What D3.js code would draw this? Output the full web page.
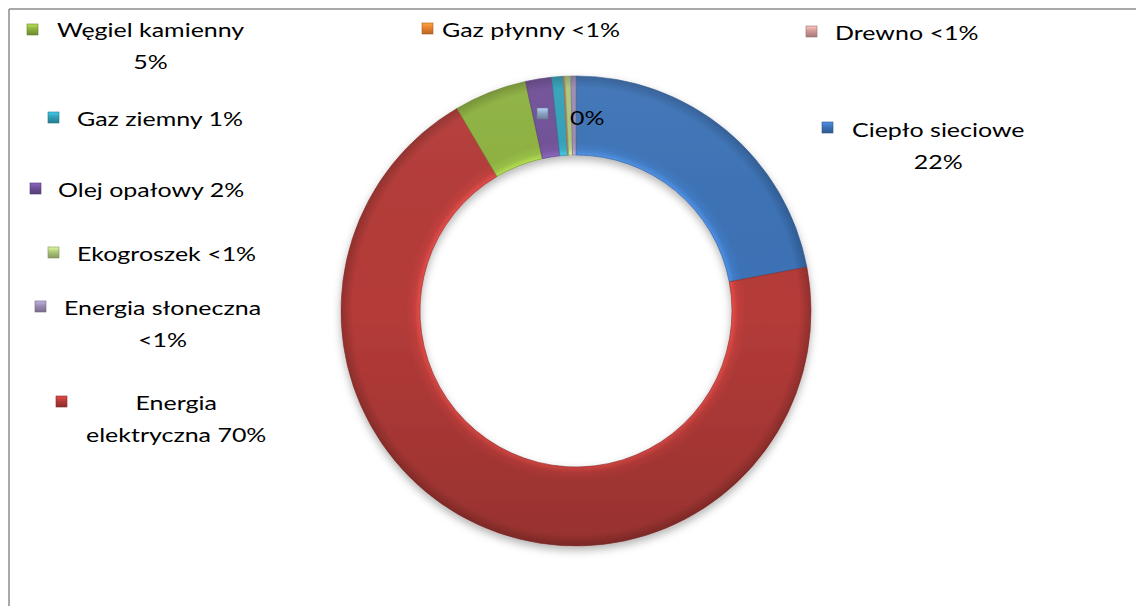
<!DOCTYPE html>
<html>
<head>
<meta charset="utf-8">
<script src="https://cdn.jsdelivr.net/npm/d3@7"></script>
<style>
  body { margin: 0; background: #fff; }
  svg { display: block; font-family: Lato, "Open Sans", sans-serif; }
</style>
</head>
<body>
<svg width="1136" height="607"></svg>
<script>
// slices in drawing order (clockwise from 12 o'clock)
const categories = ["Ciepło sieciowe", "Energia elektryczna", "Węgiel kamienny", "Olej opałowy",
  "Gaz ziemny", "Gaz płynny", "", "Drewno", "Ekogroszek", "Energia słoneczna"];
const shares = [22, 69.5, 5, 1.8, 0.8, 0.05, 0, 0.05, 0.4, 0.35];
const labelLines = [
  ["Ciepło sieciowe", "22%"],
  ["Energia", "elektryczna 70%"],
  ["Węgiel kamienny", "5%"],
  ["Olej opałowy 2%"],
  ["Gaz ziemny 1%"],
  ["Gaz płynny <1%"],
  ["0%"],
  ["Drewno <1%"],
  ["Ekogroszek <1%"],
  ["Energia słoneczna", "<1%"]
];
const colors = ["#3c72b6", "#b43b38", "#8db13f", "#6f4f97", "#31a0b9",
  "#e9822e", "#8fa6c6", "#d19a98", "#adc67a", "#9a8bb3"];

// label placement: text left, first baseline, marker left, marker top
const labelPos = [
  [852, 137, 822, 122],
  [86, 410, 56, 396],
  [57, 37, 27, 24],
  [58, 197, 30, 183],
  [77, 126, 48, 112],
  [442, 37, 422, 23],
  [570, 125, 537, 108],
  [835, 40, 806, 26],
  [77, 261, 48, 247],
  [64, 315, 35, 301]
];

const svg = d3.select("svg");
const cx = 576, cy = 311, rOuter = 235, rInner = 156;
const lineH = 32, stretch = 1.28;

// frame (only top and left edges are visible)
svg.append("line").attr("x1", 9).attr("y1", 9).attr("x2", 1136).attr("y2", 9)
  .attr("stroke", "#8c8c8c").attr("stroke-width", 1.5);
svg.append("line").attr("x1", 9).attr("y1", 9).attr("x2", 9).attr("y2", 606)
  .attr("stroke", "#8c8c8c").attr("stroke-width", 1.5);

const defs = svg.append("defs");

const shadow = defs.append("filter").attr("id", "shadow")
  .attr("x", "-10%").attr("y", "-10%").attr("width", "120%").attr("height", "125%");
shadow.append("feDropShadow").attr("dx", 0).attr("dy", 4).attr("stdDeviation", 4)
  .attr("flood-color", "#000").attr("flood-opacity", 0.3);

const shade = defs.append("linearGradient").attr("id", "shade")
  .attr("gradientUnits", "userSpaceOnUse")
  .attr("x1", 0).attr("y1", -rOuter).attr("x2", 0).attr("y2", rOuter);
shade.append("stop").attr("offset", 0).attr("stop-color", "#fff").attr("stop-opacity", 0.05);
shade.append("stop").attr("offset", 0.5).attr("stop-color", "#000").attr("stop-opacity", 0);
shade.append("stop").attr("offset", 1).attr("stop-color", "#000").attr("stop-opacity", 0.16);

const data = categories.map((c, i) => ({ name: c, value: shares[i], color: colors[i], i }));

// bevel-like radial shading per slice (ring is drawn around 0,0)
data.forEach(d => {
  const base = d3.color(d.color);
  const g = defs.append("radialGradient").attr("id", "grad" + d.i)
    .attr("gradientUnits", "userSpaceOnUse")
    .attr("cx", 0).attr("cy", 0).attr("r", rOuter);
  const k = rInner / rOuter;
  g.append("stop").attr("offset", k).attr("stop-color", base.brighter(0.7));
  g.append("stop").attr("offset", k + 0.025).attr("stop-color", base.brighter(0.2));
  g.append("stop").attr("offset", k + 0.06).attr("stop-color", base);
  g.append("stop").attr("offset", 0.95).attr("stop-color", base);
  g.append("stop").attr("offset", 1).attr("stop-color", base.darker(0.6));

  const m = defs.append("linearGradient").attr("id", "key" + d.i)
    .attr("x1", 0).attr("y1", 0).attr("x2", 0).attr("y2", 1);
  m.append("stop").attr("offset", 0).attr("stop-color", base.brighter(0.7));
  m.append("stop").attr("offset", 0.45).attr("stop-color", base);
  m.append("stop").attr("offset", 1).attr("stop-color", base.darker(0.7));
});

const pie = d3.pie().sort(null).value(d => d.value);
const arc = d3.arc().innerRadius(rInner).outerRadius(rOuter);

const ring = svg.append("g")
  .attr("transform", `translate(${cx},${cy})`)
  .attr("filter", "url(#shadow)");

ring.selectAll("path.slice")
  .data(pie(data).filter(a => a.data.value > 0))
  .enter().append("path")
  .attr("class", "slice")
  .attr("d", arc)
  .attr("fill", a => `url(#grad${a.data.i})`)
  .attr("stroke", a => d3.color(a.data.color).darker(0.8))
  .attr("stroke-width", 0.6);

// soft top-to-bottom lighting over the whole ring
ring.append("path")
  .attr("d", arc({ startAngle: 0, endAngle: 2 * Math.PI }))
  .attr("fill", "url(#shade)")
  .attr("pointer-events", "none");

// data labels with legend keys
const labels = svg.append("g").attr("font-size", 19.5).attr("fill", "#000");

data.forEach(d => {
  const [tx, ty, mx, my] = labelPos[d.i];
  const lines = labelLines[d.i];
  const g = labels.append("g");

  g.append("rect")
    .attr("x", mx).attr("y", my).attr("width", 11).attr("height", 11)
    .attr("fill", `url(#key${d.i})`)
    .attr("stroke", d3.color(d.color).darker(0.9)).attr("stroke-width", 0.6);

  const texts = g.selectAll("text").data(lines).enter().append("text")
    .attr("y", (t, j) => ty + j * lineH)
    .text(t => t);

  const widths = texts.nodes().map(n => n.getComputedTextLength() * stretch);
  const w = d3.max(widths);
  texts
    .attr("textLength", (t, j) => widths[j])
    .attr("lengthAdjust", "spacingAndGlyphs")
    .attr("x", tx + w / 2)
    .attr("text-anchor", "middle");
});
</script>
</body>
</html>
